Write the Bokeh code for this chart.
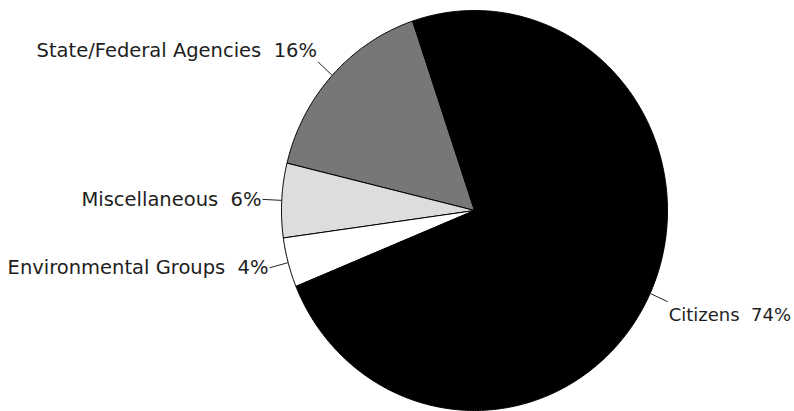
import numpy as np
from bokeh.plotting import figure
from bokeh.models import Range1d, ColumnDataSource
from bokeh.core.properties import value
from bokeh.embed import file_html
from bokeh.resources import INLINE

# ---- data ----
categories = ["State/Federal Agencies", "Miscellaneous", "Environmental Groups", "Citizens"]
shares = [16, 6, 4, 74]
colors = ["#777777", "#dddddd", "#ffffff", "#000000"]

# ---- layout constants ----
START_DEG = 108.7      # counter-clockwise start of the first slice
LEADER = 1.1           # leader line outer radius (pie radius = 1)

total = float(sum(shares))
edges = np.deg2rad(START_DEG) + np.cumsum([0] + shares) / total * 2 * np.pi

xs, ys, mids = [], [], []
for a0, a1 in zip(edges[:-1], edges[1:]):
    n = max(int(np.degrees(a1 - a0) * 2), 8)
    t = np.linspace(a0, a1, n)
    xs.append([0.0] + list(np.cos(t)) + [0.0])
    ys.append([0.0] + list(np.sin(t)) + [0.0])
    mids.append((a0 + a1) / 2)
mids = np.array(mids)

p = figure(width=794, height=411,
           x_range=Range1d(-2.456, 1.658), y_range=Range1d(-1.005, 1.05),
           output_backend="svg", toolbar_location=None,
           x_axis_location=None, y_axis_location=None, min_border=0)
p.grid.visible = False
p.outline_line_color = None
p.background_fill_color = "white"
p.border_fill_color = "white"

p.patches(xs="xs", ys="ys", fill_color="color", line_color="black", line_width=1,
          source=ColumnDataSource(dict(xs=xs, ys=ys, color=colors)))

cx, sy = np.cos(mids), np.sin(mids)
p.segment(x0=cx, y0=sy, x1=LEADER * cx, y1=LEADER * sy, line_color="#222222", line_width=1)

labels = [f"{c}\u00a0 {v}%" for c, v in zip(categories, shares)]
align = ["right" if c < 0 else "left" for c in cx]
xoff = [-1 if c < 0 else 1 for c in cx]
yoff = [(-11 if s > 0.35 else (13 if s < -0.35 else 0)) for s in sy]
fsize = ["19.5px" if c < 0 else "18px" for c in cx]

p.text(x="x", y="y", text="text", text_align="align", x_offset="xo", y_offset="yo",
       text_baseline="alphabetic", text_font=value("DejaVu Sans"), text_font_size="fs",
       text_color="#1e1e1e",
       source=ColumnDataSource(dict(x=LEADER * cx, y=LEADER * sy, text=labels,
                                    align=align, xo=xoff, yo=yoff, fs=fsize)))

open("out.html", "w").write(file_html(p, INLINE))
